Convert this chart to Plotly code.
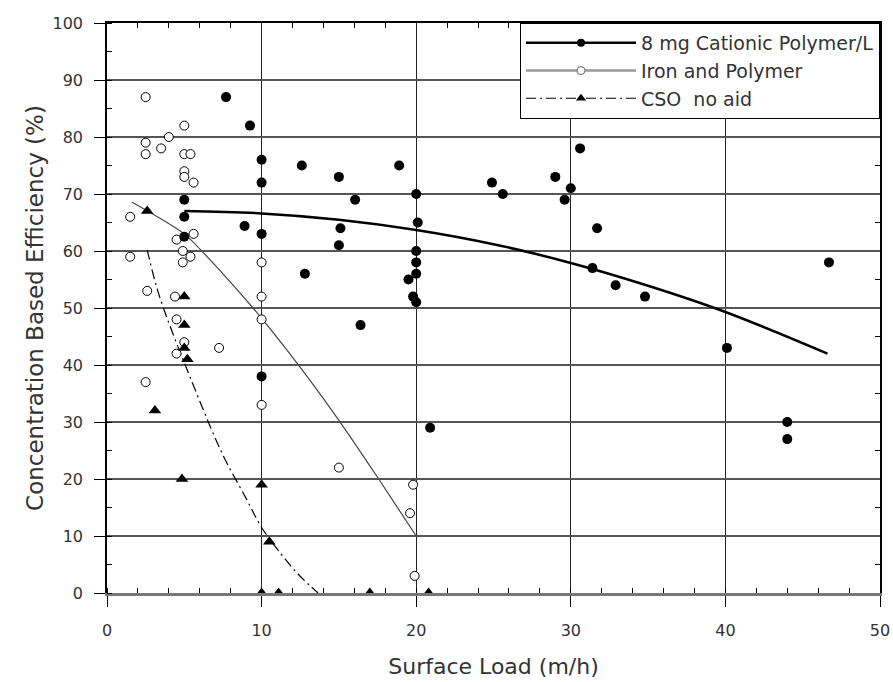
import plotly.graph_objects as go

# ---- data ----
cat_x = [7.7, 9.25, 10, 10, 10, 8.9, 12.6, 15, 16.05, 18.9, 20, 20.1, 15.1, 15, 20, 20, 20, 19.5,
         19.8, 20, 12.8, 16.4, 10, 20.9, 24.9, 25.6, 29, 30, 29.6, 30.6, 31.7, 31.4, 32.9, 34.8,
         46.7, 40.1, 44, 44, 5, 5, 5]
cat_y = [87, 82, 76, 72, 63, 64.4, 75, 73, 69, 75, 70, 65, 64, 61, 60, 58, 56, 55,
         52, 51, 56, 47, 38, 29, 72, 70, 73, 71, 69, 78, 64, 57, 54, 52,
         58, 43, 30, 27, 69, 66, 62.5]

iron_x = [2.5, 5, 4, 3.5, 2.5, 2.5, 5, 5.4, 5, 5, 5.6, 1.5, 4.5, 5.6, 4.9, 5.4, 4.9, 1.5, 2.6,
          4.4, 4.5, 5, 4.5, 7.25, 2.5, 10, 10, 10, 10, 15, 19.8, 19.6, 19.9]
iron_y = [87, 82, 80, 78, 79, 77, 77, 77, 74, 73, 72, 66, 62, 63, 60, 59, 58, 59, 53,
          52, 48, 44, 42, 43, 37, 58, 52, 48, 33, 22, 19, 14, 3]

cso_x = [2.6, 3.1, 4.85, 5, 5, 5, 5.2, 10, 10.5, 10, 11.1, 17, 20.8]
cso_y = [67, 32, 20, 52, 47, 43, 41, 19, 9, 0, 0, 0, 0]

cat_curve_x = [5, 10, 15, 20, 25, 30, 35, 40, 46.6]
cat_curve_y = [67, 66.6, 65.5, 63.7, 61.2, 57.9, 53.9, 49.3, 42.0]

iron_curve_x = [1.6, 5, 7.5, 10, 12.5, 15, 17.5, 20]
iron_curve_y = [68.6, 63, 56, 48.2, 39.6, 30.3, 20.3, 10]

cso_curve_x = [2.6, 3.4, 5.8, 7.5, 9.0, 10.0, 11.3, 12.4, 13.65]
cso_curve_y = [60.2, 52, 35, 24.2, 16.6, 11.5, 6.7, 3.2, 0]

names = ["8 mg Cationic Polymer/L", "Iron and Polymer", "CSO  no aid"]

FONT = "DejaVu Sans"
TXT = "#333333"
DASHDOT = "10px,4px,2px,4px"

fig = go.Figure()

# fitted curves
fig.add_trace(go.Scatter(x=cat_curve_x, y=cat_curve_y, mode="lines", line=dict(color="black", width=2.5, shape="spline"),
                         showlegend=False, hoverinfo="skip"))
fig.add_trace(go.Scatter(x=iron_curve_x, y=iron_curve_y, mode="lines", line=dict(color="#444444", width=1.2, shape="spline", smoothing=0.6),
                         showlegend=False, hoverinfo="skip"))
fig.add_trace(go.Scatter(x=cso_curve_x, y=cso_curve_y, mode="lines",
                         line=dict(color="black", width=1.2, dash=DASHDOT, shape="spline"),
                         showlegend=False, hoverinfo="skip"))

# data points
fig.add_trace(go.Scatter(x=iron_x, y=iron_y, mode="markers", showlegend=False,
                         marker=dict(symbol="circle", size=9, color="white", line=dict(color="black", width=1))))
fig.add_trace(go.Scatter(x=cat_x, y=cat_y, mode="markers", showlegend=False,
                         marker=dict(symbol="circle", size=10, color="black")))
fig.add_trace(go.Scatter(x=cso_x, y=cso_y, mode="markers", showlegend=False,
                         marker=dict(symbol="triangle-up", size=11, color="black")))

# legend entries
fig.add_trace(go.Scatter(x=[None], y=[None], mode="lines+markers", name=names[0],
                         line=dict(color="black", width=2.5), marker=dict(symbol="circle", size=8, color="black")))
fig.add_trace(go.Scatter(x=[None], y=[None], mode="lines+markers", name=names[1],
                         line=dict(color="#999999", width=2.5),
                         marker=dict(symbol="circle", size=8, color="white", line=dict(color="#666666", width=1))))
fig.add_trace(go.Scatter(x=[None], y=[None], mode="lines+markers", name=names[2],
                         line=dict(color="black", width=1.2, dash=DASHDOT),
                         marker=dict(symbol="triangle-up", size=9, color="black")))

# helper trace for mirrored (top/right) minor ticks
fig.add_trace(go.Scatter(x=[None], y=[None], xaxis="x2", yaxis="y2", showlegend=False, hoverinfo="skip"))

fig.update_layout(
    width=893, height=682,
    margin=dict(l=107, r=13, t=23, b=89, autoexpand=False),
    paper_bgcolor="white", plot_bgcolor="white",
    font=dict(family=FONT, size=16, color=TXT),
    xaxis=dict(range=[0, 50], dtick=10, tick0=0, showgrid=True, gridcolor="#222222", gridwidth=1,
               ticks="outside", ticklen=11, tickcolor="black", tickwidth=1, automargin=False,
               minor=dict(dtick=2, ticks="inside", ticklen=5, tickcolor="black", showgrid=False),
               showline=True, linecolor="#777777", linewidth=3, zeroline=False,
               ticklabelstandoff=10,
               title=dict(text="Surface Load (m/h)", font=dict(size=22, color=TXT), standoff=20)),
    yaxis=dict(range=[0, 100], dtick=10, tick0=0, showgrid=True, gridcolor="#555555", gridwidth=2,
               ticks="outside", ticklen=11, tickcolor="black", tickwidth=1, automargin=False,
               minor=dict(dtick=5, ticks="inside", ticklen=5, tickcolor="black", showgrid=False),
               showline=True, linecolor="black", linewidth=1.5, zeroline=False,
               ticklabelstandoff=8,
               title=dict(text="Concentration Based Efficiency (%)", font=dict(size=23, color=TXT), standoff=2)),
    xaxis2=dict(range=[0, 50], overlaying="x", side="top", showgrid=False, showticklabels=False,
                ticks="", dtick=10, minor=dict(dtick=2, ticks="inside", ticklen=5, tickcolor="black"),
                showline=True, linecolor="black", linewidth=1.5, zeroline=False, automargin=False),
    yaxis2=dict(range=[0, 100], overlaying="y", side="right", showgrid=False, showticklabels=False,
                ticks="", dtick=10, minor=dict(dtick=5, ticks="inside", ticklen=5, tickcolor="black"),
                showline=True, linecolor="black", linewidth=1.5, zeroline=False, automargin=False),
    legend=dict(x=1, xanchor="right", y=1, yanchor="top", bgcolor="white",
                bordercolor="black", borderwidth=1, font=dict(size=19, color=TXT),
                itemwidth=110, tracegroupgap=0),
    showlegend=True,
)

fig.write_html("out.html", config={"displayModeBar": False},
               post_script="document.body.style.margin='0';")
